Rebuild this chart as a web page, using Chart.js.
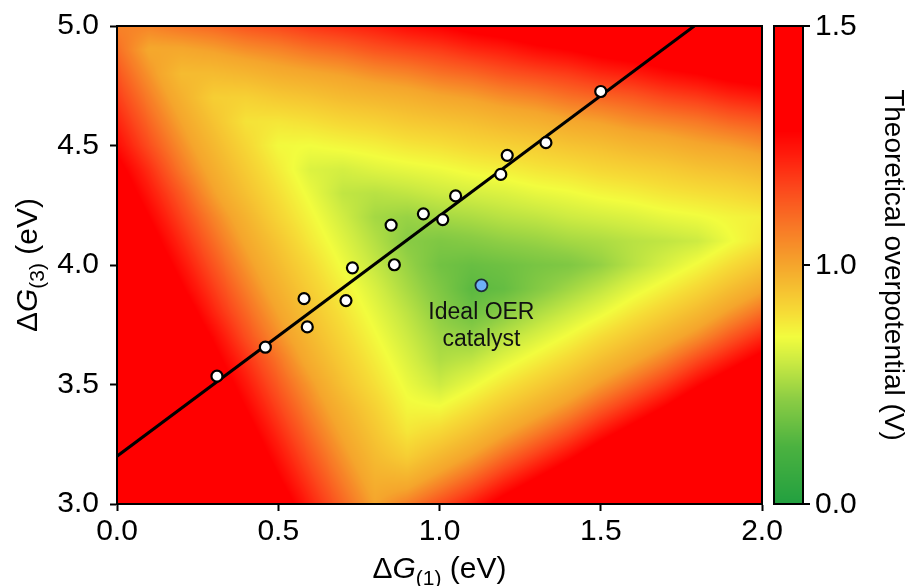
<!DOCTYPE html>
<html>
<head>
<meta charset="utf-8">
<title>Theoretical overpotential map</title>
<script src="https://cdn.jsdelivr.net/npm/chart.js@4.4.1/dist/chart.umd.min.js"></script>
<style>
  html, body { margin: 0; padding: 0; background: #ffffff; }
  #grafica { display: block; }
</style>
</head>
<body>
<canvas id="grafica" width="910" height="586"></canvas>
<script>
// Malla del mapa: ΔG(1) en columnas, ΔG(3) en filas (eV)
const gridX = [0.0, 0.1, 0.2, 0.3, 0.4, 0.5, 0.6, 0.7, 0.8, 0.9, 1.0, 1.1, 1.2, 1.3, 1.4, 1.5, 1.6, 1.7, 1.8, 1.9, 2.0];
const gridY = [5.0, 4.9, 4.8, 4.7, 4.6, 4.5, 4.4, 4.3, 4.2, 4.1, 4.0, 3.9, 3.8, 3.7, 3.6, 3.5, 3.4, 3.3, 3.2, 3.1, 3.0];

const etaGrid = [
  [1.06, 1.06, 1.09, 1.11, 1.14, 1.16, 1.19, 1.21, 1.23, 1.26, 1.28, 1.31, 1.33, 1.36, 1.38, 1.40, 1.43, 1.45, 1.48, 1.50, 1.50], // 5.0
  [1.10, 0.99, 0.99, 1.01, 1.04, 1.06, 1.09, 1.11, 1.14, 1.16, 1.18, 1.21, 1.23, 1.26, 1.28, 1.31, 1.33, 1.35, 1.38, 1.40, 1.43], // 4.9
  [1.14, 1.03, 0.92, 0.92, 0.94, 0.97, 0.99, 1.01, 1.04, 1.06, 1.09, 1.11, 1.14, 1.16, 1.18, 1.21, 1.23, 1.26, 1.28, 1.31, 1.33], // 4.8
  [1.18, 1.07, 0.96, 0.85, 0.84, 0.87, 0.89, 0.92, 0.94, 0.96, 0.99, 1.01, 1.04, 1.06, 1.09, 1.11, 1.13, 1.16, 1.18, 1.21, 1.23], // 4.7
  [1.22, 1.11, 1.00, 0.89, 0.78, 0.77, 0.79, 0.82, 0.84, 0.87, 0.89, 0.91, 0.94, 0.96, 0.99, 1.01, 1.04, 1.06, 1.08, 1.11, 1.13], // 4.6
  [1.26, 1.15, 1.04, 0.93, 0.82, 0.71, 0.70, 0.72, 0.74, 0.77, 0.79, 0.82, 0.84, 0.86, 0.89, 0.91, 0.94, 0.96, 0.99, 1.01, 1.04], // 4.5
  [1.31, 1.20, 1.08, 0.97, 0.86, 0.75, 0.64, 0.62, 0.65, 0.67, 0.69, 0.72, 0.74, 0.77, 0.79, 0.82, 0.84, 0.86, 0.89, 0.91, 0.94], // 4.4
  [1.35, 1.24, 1.13, 1.01, 0.90, 0.79, 0.68, 0.57, 0.55, 0.57, 0.60, 0.62, 0.64, 0.67, 0.69, 0.72, 0.74, 0.77, 0.79, 0.81, 0.84], // 4.3
  [1.39, 1.28, 1.17, 1.06, 0.95, 0.83, 0.72, 0.61, 0.50, 0.47, 0.50, 0.52, 0.55, 0.57, 0.60, 0.62, 0.64, 0.67, 0.69, 0.72, 0.74], // 4.2
  [1.43, 1.32, 1.21, 1.10, 0.99, 0.88, 0.76, 0.65, 0.54, 0.43, 0.40, 0.42, 0.45, 0.47, 0.50, 0.52, 0.55, 0.57, 0.60, 0.69, 0.77], // 4.1
  [1.47, 1.36, 1.25, 1.14, 1.03, 0.92, 0.81, 0.69, 0.58, 0.47, 0.36, 0.33, 0.35, 0.38, 0.40, 0.46, 0.55, 0.63, 0.71, 0.80, 0.88], // 4.0
  [1.50, 1.40, 1.29, 1.18, 1.07, 0.96, 0.85, 0.74, 0.63, 0.51, 0.40, 0.29, 0.32, 0.41, 0.49, 0.57, 0.66, 0.74, 0.82, 0.91, 0.99], // 3.9
  [1.50, 1.45, 1.34, 1.22, 1.11, 1.00, 0.89, 0.78, 0.67, 0.56, 0.44, 0.35, 0.43, 0.52, 0.60, 0.68, 0.77, 0.85, 0.93, 1.02, 1.10], // 3.8
  [1.50, 1.49, 1.38, 1.27, 1.15, 1.04, 0.93, 0.82, 0.71, 0.60, 0.49, 0.46, 0.55, 0.63, 0.71, 0.80, 0.88, 0.96, 1.04, 1.13, 1.21], // 3.7
  [1.50, 1.50, 1.42, 1.31, 1.20, 1.09, 0.97, 0.86, 0.75, 0.64, 0.53, 0.57, 0.66, 0.74, 0.82, 0.91, 0.99, 1.07, 1.16, 1.24, 1.32], // 3.6
  [1.50, 1.50, 1.46, 1.35, 1.24, 1.13, 1.02, 0.90, 0.79, 0.68, 0.60, 0.68, 0.77, 0.85, 0.93, 1.02, 1.10, 1.18, 1.27, 1.35, 1.43], // 3.5
  [1.50, 1.50, 1.50, 1.39, 1.28, 1.17, 1.06, 0.95, 0.84, 0.72, 0.71, 0.79, 0.88, 0.96, 1.04, 1.13, 1.21, 1.29, 1.38, 1.46, 1.50], // 3.4
  [1.50, 1.50, 1.50, 1.43, 1.32, 1.21, 1.10, 0.99, 0.88, 0.77, 0.82, 0.90, 0.99, 1.07, 1.15, 1.24, 1.32, 1.40, 1.49, 1.50, 1.50], // 3.3
  [1.50, 1.50, 1.50, 1.48, 1.36, 1.25, 1.14, 1.03, 0.92, 0.85, 0.93, 1.01, 1.10, 1.18, 1.26, 1.35, 1.43, 1.50, 1.50, 1.50, 1.50], // 3.2
  [1.50, 1.50, 1.50, 1.50, 1.41, 1.29, 1.18, 1.07, 0.96, 0.96, 1.04, 1.12, 1.21, 1.29, 1.37, 1.46, 1.50, 1.50, 1.50, 1.50, 1.50], // 3.1
  [1.50, 1.50, 1.50, 1.50, 1.45, 1.34, 1.22, 1.11, 1.00, 1.07, 1.15, 1.23, 1.32, 1.40, 1.48, 1.50, 1.50, 1.50, 1.50, 1.50, 1.50]  // 3.0
];

// Catalizadores (puntos blancos)
const dg1 = [0.31, 0.46, 0.58, 0.59, 0.71, 0.73, 0.85, 0.86, 0.95, 1.01, 1.05, 1.19, 1.21, 1.33, 1.50];
const dg3 = [3.535, 3.656, 3.859, 3.741, 3.851, 3.988, 4.167, 4.001, 4.214, 4.190, 4.289, 4.379, 4.459, 4.512, 4.726];

// Catalizador ideal
const idealX = [1.13];
const idealY = [3.915];
const idealLabel = ["Ideal OER", "catalyst"];

// Recta de escalamiento
const lineX = [0.0, 1.79];
const lineY = [3.2, 5.0];

// Ticks
const xTicks = [0.0, 0.5, 1.0, 1.5, 2.0];
const yTicks = [3.0, 3.5, 4.0, 4.5, 5.0];
const cbTicks = [0.0, 1.0, 1.5];   // el 1.0 queda a la mitad de la barra
const cbLabel = "Theoretical overpotential (V)";

// Mapa de colores verde -> amarillo -> rojo (posición en la barra, color)
const cmapPos = [0.00, 0.12, 0.22, 0.30, 0.35, 0.40, 0.50, 0.58, 0.66, 0.73, 0.78, 1.00];
const cmapRGB = [
  [34, 160, 64], [75, 178, 64], [140, 205, 68], [205, 235, 66], [242, 252, 62], [246, 220, 54],
  [245, 165, 44], [248, 120, 38], [252, 72, 28], [255, 28, 12], [255, 0, 0], [255, 0, 0]
];

const FONT = '"Liberation Sans", Arial, sans-serif';
Chart.defaults.font.family = FONT;
Chart.defaults.color = '#000';

// Posición normalizada en la barra (0 abajo, 1 arriba), con dos pendientes
function normEta(v) {
  const vmin = cbTicks[0], vc = cbTicks[1], vmax = cbTicks[2];
  let t = v <= vc ? 0.5 * (v - vmin) / (vc - vmin) : 0.5 + 0.5 * (v - vc) / (vmax - vc);
  return Math.max(0, Math.min(1, t));
}

function cmap(t) {
  for (let k = 1; k < cmapPos.length; k++) {
    if (t <= cmapPos[k]) {
      const f = (t - cmapPos[k - 1]) / (cmapPos[k] - cmapPos[k - 1]);
      const a = cmapRGB[k - 1], b = cmapRGB[k];
      return [a[0] + (b[0] - a[0]) * f, a[1] + (b[1] - a[1]) * f, a[2] + (b[2] - a[2]) * f];
    }
  }
  return cmapRGB[cmapRGB.length - 1];
}

// Valor del mapa en (x, y) a partir de la malla
function etaAt(xv, yv) {
  const nx = gridX.length, ny = gridY.length;
  let fx = (xv - gridX[0]) / (gridX[1] - gridX[0]);
  let fy = (gridY[0] - yv) / (gridY[0] - gridY[1]);
  fx = Math.max(0, Math.min(nx - 1, fx));
  fy = Math.max(0, Math.min(ny - 1, fy));
  let c0 = Math.floor(fx), r0 = Math.floor(fy);
  if (c0 >= nx - 1) c0 = nx - 2;
  if (r0 >= ny - 1) r0 = ny - 2;
  const tx = fx - c0, ty = fy - r0;
  const top = etaGrid[r0][c0] * (1 - tx) + etaGrid[r0][c0 + 1] * tx;
  const bot = etaGrid[r0 + 1][c0] * (1 - tx) + etaGrid[r0 + 1][c0 + 1] * tx;
  return top * (1 - ty) + bot * ty;
}

// Texto con G en cursiva y subíndice
function drawRich(ctx, parts, size) {
  let total = 0;
  const items = parts.map(p => {
    const fs = p[1] === 'sub' ? size * 0.7 : size;
    const font = (p[1] === 'i' ? 'italic ' : '') + fs + 'px ' + FONT;
    ctx.font = font;
    const w = ctx.measureText(p[0]).width;
    total += w;
    return { text: p[0], font: font, w: w, dy: p[1] === 'sub' ? size * 0.24 : 0 };
  });
  let xx = -total / 2;
  ctx.textAlign = 'left';
  ctx.textBaseline = 'alphabetic';
  items.forEach(m => {
    ctx.font = m.font;
    ctx.fillText(m.text, xx, m.dy);
    xx += m.w;
  });
}

// Plugin: fondo de color debajo de los puntos
const heatmapPlugin = {
  id: 'heatmap',
  beforeDatasetsDraw(chart) {
    const { ctx, chartArea: a, scales: { x, y } } = chart;
    const w = Math.round(a.right - a.left), h = Math.round(a.bottom - a.top);
    const off = document.createElement('canvas');
    off.width = w; off.height = h;
    const octx = off.getContext('2d');
    const img = octx.createImageData(w, h);
    const xs = [];
    for (let i = 0; i < w; i++) xs.push(x.getValueForPixel(a.left + i + 0.5));
    for (let j = 0; j < h; j++) {
      const yv = y.getValueForPixel(a.top + j + 0.5);
      for (let i = 0; i < w; i++) {
        const c = cmap(normEta(etaAt(xs[i], yv)));
        const p = (j * w + i) * 4;
        img.data[p] = c[0]; img.data[p + 1] = c[1]; img.data[p + 2] = c[2]; img.data[p + 3] = 255;
      }
    }
    octx.putImageData(img, 0, 0);
    ctx.drawImage(off, a.left, a.top);
  },
  afterDatasetsDraw(chart) {
    const { ctx, chartArea: a, scales: { x, y } } = chart;
    // Etiqueta del catalizador ideal
    const px = x.getPixelForValue(idealX[0]), py = y.getPixelForValue(idealY[0]);
    ctx.save();
    ctx.fillStyle = '#111';
    ctx.font = '23px ' + FONT;
    ctx.textAlign = 'center';
    ctx.textBaseline = 'alphabetic';
    ctx.fillText(idealLabel[0], px, py + 34);
    ctx.fillText(idealLabel[1], px, py + 61);
    // Marco
    ctx.strokeStyle = '#000';
    ctx.lineWidth = 2;
    ctx.strokeRect(a.left, a.top, a.right - a.left, a.bottom - a.top);
    ctx.restore();
  },
  afterDraw(chart) {
    const { ctx, chartArea: a } = chart;
    ctx.save();
    ctx.fillStyle = '#000';
    // Títulos de los ejes
    ctx.save();
    ctx.translate((a.left + a.right) / 2, 578);
    drawRich(ctx, [['Δ', ''], ['G', 'i'], ['(1)', 'sub'], [' (eV)', '']], 30);
    ctx.restore();
    ctx.save();
    ctx.translate(37, (a.top + a.bottom) / 2);
    ctx.rotate(-Math.PI / 2);
    drawRich(ctx, [['Δ', ''], ['G', 'i'], ['(3)', 'sub'], [' (eV)', '']], 30);
    ctx.restore();

    // Barra de color
    const cbL = 774, cbW = 29, top = a.top, bot = a.bottom, hh = bot - top;
    for (let j = 0; j < hh; j++) {
      const c = cmap(1 - (j + 0.5) / hh);
      ctx.fillStyle = 'rgb(' + Math.round(c[0]) + ',' + Math.round(c[1]) + ',' + Math.round(c[2]) + ')';
      ctx.fillRect(cbL, top + j, cbW, 1.2);
    }
    ctx.strokeStyle = '#000';
    ctx.lineWidth = 2;
    ctx.strokeRect(cbL, top, cbW, hh);
    ctx.fillStyle = '#000';
    ctx.font = '30px ' + FONT;
    ctx.textAlign = 'left';
    ctx.textBaseline = 'middle';
    cbTicks.forEach(v => {
      const yy = bot - normEta(v) * hh;
      ctx.beginPath();
      ctx.moveTo(cbL + cbW, yy);
      ctx.lineTo(cbL + cbW + 7, yy);
      ctx.stroke();
      ctx.fillText(v.toFixed(1), cbL + cbW + 12, yy + 1);
    });
    ctx.translate(893, (top + bot) / 2);
    ctx.rotate(Math.PI / 2);
    ctx.font = '28px ' + FONT;
    ctx.textAlign = 'center';
    ctx.fillText(cbLabel, 0, 0);
    ctx.restore();
  }
};

const ctx = document.getElementById('grafica').getContext('2d');
new Chart(ctx, {
  type: 'scatter',
  data: {
    datasets: [
      {
        label: 'ideal',
        data: idealX.map((v, i) => ({ x: v, y: idealY[i] })),
        backgroundColor: '#6eb0f7',
        borderColor: '#1b2a3a',
        borderWidth: 1.8,
        pointRadius: 6,
        order: 0
      },
      {
        label: 'catalysts',
        data: dg1.map((v, i) => ({ x: v, y: dg3[i] })),
        backgroundColor: '#ffffff',
        borderColor: '#000000',
        borderWidth: 2.2,
        pointRadius: 5.5,
        order: 1
      },
      {
        label: 'scaling',
        data: lineX.map((v, i) => ({ x: v, y: lineY[i] })),
        showLine: true,
        borderColor: '#000000',
        borderWidth: 3,
        pointRadius: 0,
        order: 2
      }
    ]
  },
  options: {
    responsive: false,
    animation: false,
    devicePixelRatio: 1,
    layout: { padding: { top: 22, right: 148, left: 0, bottom: 0 } },
    plugins: { legend: { display: false }, tooltip: { enabled: false } },
    scales: {
      x: {
        type: 'linear',
        min: 0, max: 2,
        afterFit(s) { s.height = 82; },
        afterBuildTicks(s) { s.ticks = xTicks.map(v => ({ value: v })); },
        ticks: { font: { size: 30, lineHeight: 1 }, color: '#000', padding: 6, maxRotation: 0, callback: v => Number(v).toFixed(1) },
        grid: { drawOnChartArea: false, drawTicks: true, tickLength: 7, tickWidth: 2, tickColor: '#000' },
        border: { display: true, color: '#000', width: 2 }
      },
      y: {
        type: 'linear',
        min: 3, max: 5,
        afterFit(s) { s.width = 117; },
        afterBuildTicks(s) { s.ticks = yTicks.map(v => ({ value: v })); },
        ticks: { font: { size: 30, lineHeight: 1 }, color: '#000', padding: 11, callback: v => Number(v).toFixed(1) },
        grid: { drawOnChartArea: false, drawTicks: true, tickLength: 7, tickWidth: 2, tickColor: '#000' },
        border: { display: true, color: '#000', width: 2 }
      }
    }
  },
  plugins: [heatmapPlugin]
});
</script>
</body>
</html>
